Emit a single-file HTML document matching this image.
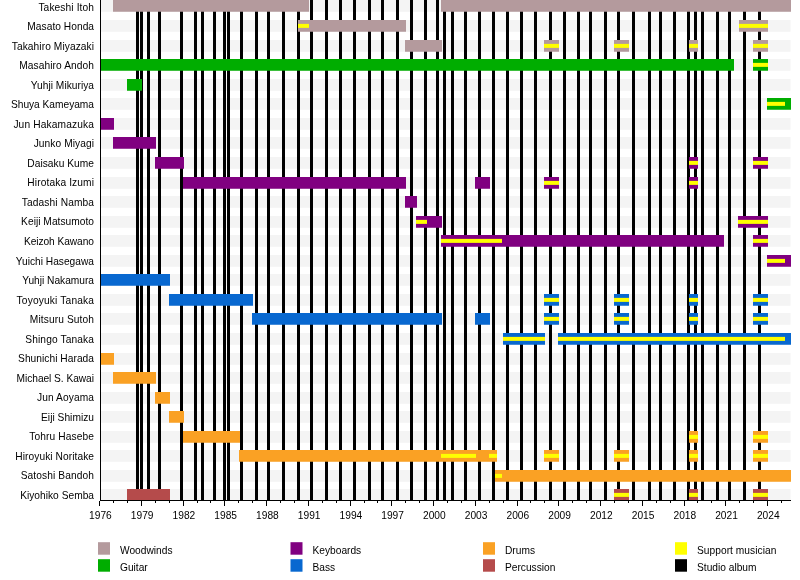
<!DOCTYPE html><html><head><meta charset="utf-8"><style>html,body{margin:0;padding:0;background:#fff;width:800px;height:580px;overflow:hidden}svg{display:block;will-change:transform}text{font-family:"Liberation Sans",sans-serif;fill:#000}</style></head><body>
<svg width="800" height="580" viewBox="0 0 800 580">
<rect x="0" y="0" width="800" height="580" fill="#fff"/>
<rect x="101" y="0.00" width="689.5" height="11.75" fill="#f4f4f4"/>
<rect x="101" y="20.00" width="689.5" height="11.75" fill="#f4f4f4"/>
<rect x="101" y="40.00" width="689.5" height="11.75" fill="#f4f4f4"/>
<rect x="101" y="59.00" width="689.5" height="11.75" fill="#f4f4f4"/>
<rect x="101" y="79.00" width="689.5" height="11.75" fill="#f4f4f4"/>
<rect x="101" y="98.00" width="689.5" height="11.75" fill="#f4f4f4"/>
<rect x="101" y="118.00" width="689.5" height="11.75" fill="#f4f4f4"/>
<rect x="101" y="137.00" width="689.5" height="11.75" fill="#f4f4f4"/>
<rect x="101" y="157.00" width="689.5" height="11.75" fill="#f4f4f4"/>
<rect x="101" y="177.00" width="689.5" height="11.75" fill="#f4f4f4"/>
<rect x="101" y="196.00" width="689.5" height="11.75" fill="#f4f4f4"/>
<rect x="101" y="216.00" width="689.5" height="11.75" fill="#f4f4f4"/>
<rect x="101" y="235.00" width="689.5" height="11.75" fill="#f4f4f4"/>
<rect x="101" y="255.00" width="689.5" height="11.75" fill="#f4f4f4"/>
<rect x="101" y="274.00" width="689.5" height="11.75" fill="#f4f4f4"/>
<rect x="101" y="294.00" width="689.5" height="11.75" fill="#f4f4f4"/>
<rect x="101" y="313.00" width="689.5" height="11.75" fill="#f4f4f4"/>
<rect x="101" y="333.00" width="689.5" height="11.75" fill="#f4f4f4"/>
<rect x="101" y="353.00" width="689.5" height="11.75" fill="#f4f4f4"/>
<rect x="101" y="372.00" width="689.5" height="11.75" fill="#f4f4f4"/>
<rect x="101" y="392.00" width="689.5" height="11.75" fill="#f4f4f4"/>
<rect x="101" y="411.00" width="689.5" height="11.75" fill="#f4f4f4"/>
<rect x="101" y="431.00" width="689.5" height="11.75" fill="#f4f4f4"/>
<rect x="101" y="450.00" width="689.5" height="11.75" fill="#f4f4f4"/>
<rect x="101" y="470.00" width="689.5" height="11.75" fill="#f4f4f4"/>
<rect x="101" y="489.00" width="689.5" height="11.75" fill="#f4f4f4"/>
<rect x="136" y="0" width="3" height="500" fill="#000"/>
<rect x="140" y="0" width="3" height="500" fill="#000"/>
<rect x="147" y="0" width="3" height="500" fill="#000"/>
<rect x="158" y="0" width="3" height="500" fill="#000"/>
<rect x="180" y="0" width="3" height="500" fill="#000"/>
<rect x="194" y="0" width="3" height="500" fill="#000"/>
<rect x="201" y="0" width="3" height="500" fill="#000"/>
<rect x="213" y="0" width="3" height="500" fill="#000"/>
<rect x="223" y="0" width="3" height="500" fill="#000"/>
<rect x="227" y="0" width="3" height="500" fill="#000"/>
<rect x="240" y="0" width="3" height="500" fill="#000"/>
<rect x="255" y="0" width="3" height="500" fill="#000"/>
<rect x="267" y="0" width="3" height="500" fill="#000"/>
<rect x="282" y="0" width="3" height="500" fill="#000"/>
<rect x="297" y="0" width="3" height="500" fill="#000"/>
<rect x="310" y="0" width="3" height="500" fill="#000"/>
<rect x="325" y="0" width="3" height="500" fill="#000"/>
<rect x="339" y="0" width="3" height="500" fill="#000"/>
<rect x="353" y="0" width="3" height="500" fill="#000"/>
<rect x="368" y="0" width="3" height="500" fill="#000"/>
<rect x="381" y="0" width="3" height="500" fill="#000"/>
<rect x="396" y="0" width="3" height="500" fill="#000"/>
<rect x="410" y="0" width="3" height="500" fill="#000"/>
<rect x="424" y="0" width="3" height="500" fill="#000"/>
<rect x="436" y="0" width="3" height="500" fill="#000"/>
<rect x="443" y="0" width="3" height="500" fill="#000"/>
<rect x="451" y="0" width="3" height="500" fill="#000"/>
<rect x="464" y="0" width="3" height="500" fill="#000"/>
<rect x="478" y="0" width="3" height="500" fill="#000"/>
<rect x="492" y="0" width="3" height="500" fill="#000"/>
<rect x="506" y="0" width="3" height="500" fill="#000"/>
<rect x="520" y="0" width="3" height="500" fill="#000"/>
<rect x="534" y="0" width="3" height="500" fill="#000"/>
<rect x="549" y="0" width="3" height="500" fill="#000"/>
<rect x="563" y="0" width="3" height="500" fill="#000"/>
<rect x="577" y="0" width="3" height="500" fill="#000"/>
<rect x="589" y="0" width="3" height="500" fill="#000"/>
<rect x="604" y="0" width="3" height="500" fill="#000"/>
<rect x="617" y="0" width="3" height="500" fill="#000"/>
<rect x="632" y="0" width="3" height="500" fill="#000"/>
<rect x="648" y="0" width="3" height="500" fill="#000"/>
<rect x="659" y="0" width="3" height="500" fill="#000"/>
<rect x="673" y="0" width="3" height="500" fill="#000"/>
<rect x="687" y="0" width="3" height="500" fill="#000"/>
<rect x="694" y="0" width="3" height="500" fill="#000"/>
<rect x="701" y="0" width="3" height="500" fill="#000"/>
<rect x="716" y="0" width="3" height="500" fill="#000"/>
<rect x="728" y="0" width="3" height="500" fill="#000"/>
<rect x="743" y="0" width="3" height="500" fill="#000"/>
<rect x="758" y="0" width="3" height="500" fill="#000"/>
<rect x="113" y="0.00" width="196" height="11.75" fill="#b49a9d"/>
<rect x="441" y="0.00" width="350" height="11.75" fill="#b49a9d"/>
<rect x="298" y="20.00" width="108" height="11.75" fill="#b49a9d"/>
<rect x="739" y="20.00" width="29" height="11.75" fill="#b49a9d"/>
<rect x="739" y="23.88" width="29" height="4" fill="#ffff00"/>
<rect x="298" y="23.88" width="11" height="4" fill="#ffff00"/>
<rect x="405" y="40.00" width="37" height="11.75" fill="#b49a9d"/>
<rect x="544" y="40.00" width="15" height="11.75" fill="#b49a9d"/>
<rect x="544" y="43.88" width="15" height="4" fill="#ffff00"/>
<rect x="614" y="40.00" width="15" height="11.75" fill="#b49a9d"/>
<rect x="614" y="43.88" width="15" height="4" fill="#ffff00"/>
<rect x="689" y="40.00" width="9" height="11.75" fill="#b49a9d"/>
<rect x="689" y="43.88" width="9" height="4" fill="#ffff00"/>
<rect x="753" y="40.00" width="15" height="11.75" fill="#b49a9d"/>
<rect x="753" y="43.88" width="15" height="4" fill="#ffff00"/>
<rect x="100" y="59.00" width="634" height="11.75" fill="#00ad00"/>
<rect x="753" y="59.00" width="15" height="11.75" fill="#00ad00"/>
<rect x="753" y="62.88" width="15" height="4" fill="#ffff00"/>
<rect x="127" y="79.00" width="15" height="11.75" fill="#00ad00"/>
<rect x="767" y="98.00" width="24" height="11.75" fill="#00ad00"/>
<rect x="767" y="101.88" width="18" height="4" fill="#ffff00"/>
<rect x="100" y="118.00" width="14" height="11.75" fill="#800080"/>
<rect x="113" y="137.00" width="43" height="11.75" fill="#800080"/>
<rect x="155" y="157.00" width="29" height="11.75" fill="#800080"/>
<rect x="689" y="157.00" width="9" height="11.75" fill="#800080"/>
<rect x="689" y="160.88" width="9" height="4" fill="#ffff00"/>
<rect x="753" y="157.00" width="15" height="11.75" fill="#800080"/>
<rect x="753" y="160.88" width="15" height="4" fill="#ffff00"/>
<rect x="183" y="177.00" width="223" height="11.75" fill="#800080"/>
<rect x="475" y="177.00" width="15" height="11.75" fill="#800080"/>
<rect x="544" y="177.00" width="15" height="11.75" fill="#800080"/>
<rect x="544" y="180.88" width="15" height="4" fill="#ffff00"/>
<rect x="689" y="177.00" width="9" height="11.75" fill="#800080"/>
<rect x="689" y="180.88" width="9" height="4" fill="#ffff00"/>
<rect x="405" y="196.00" width="12" height="11.75" fill="#800080"/>
<rect x="416" y="216.00" width="26" height="11.75" fill="#800080"/>
<rect x="738" y="216.00" width="30" height="11.75" fill="#800080"/>
<rect x="738" y="219.88" width="30" height="4" fill="#ffff00"/>
<rect x="416" y="219.88" width="11" height="4" fill="#ffff00"/>
<rect x="441" y="235.00" width="283" height="11.75" fill="#800080"/>
<rect x="753" y="235.00" width="15" height="11.75" fill="#800080"/>
<rect x="753" y="238.88" width="15" height="4" fill="#ffff00"/>
<rect x="441" y="238.88" width="61" height="4" fill="#ffff00"/>
<rect x="767" y="255.00" width="24" height="11.75" fill="#800080"/>
<rect x="767" y="258.88" width="18" height="4" fill="#ffff00"/>
<rect x="100" y="274.00" width="70" height="11.75" fill="#0868d0"/>
<rect x="169" y="294.00" width="84" height="11.75" fill="#0868d0"/>
<rect x="544" y="294.00" width="15" height="11.75" fill="#0868d0"/>
<rect x="544" y="297.88" width="15" height="4" fill="#ffff00"/>
<rect x="614" y="294.00" width="15" height="11.75" fill="#0868d0"/>
<rect x="614" y="297.88" width="15" height="4" fill="#ffff00"/>
<rect x="689" y="294.00" width="9" height="11.75" fill="#0868d0"/>
<rect x="689" y="297.88" width="9" height="4" fill="#ffff00"/>
<rect x="753" y="294.00" width="15" height="11.75" fill="#0868d0"/>
<rect x="753" y="297.88" width="15" height="4" fill="#ffff00"/>
<rect x="252" y="313.00" width="190" height="11.75" fill="#0868d0"/>
<rect x="475" y="313.00" width="15" height="11.75" fill="#0868d0"/>
<rect x="544" y="313.00" width="15" height="11.75" fill="#0868d0"/>
<rect x="544" y="316.88" width="15" height="4" fill="#ffff00"/>
<rect x="614" y="313.00" width="15" height="11.75" fill="#0868d0"/>
<rect x="614" y="316.88" width="15" height="4" fill="#ffff00"/>
<rect x="689" y="313.00" width="9" height="11.75" fill="#0868d0"/>
<rect x="689" y="316.88" width="9" height="4" fill="#ffff00"/>
<rect x="753" y="313.00" width="15" height="11.75" fill="#0868d0"/>
<rect x="753" y="316.88" width="15" height="4" fill="#ffff00"/>
<rect x="558" y="333.00" width="233" height="11.75" fill="#0868d0"/>
<rect x="503" y="333.00" width="42" height="11.75" fill="#0868d0"/>
<rect x="503" y="336.88" width="42" height="4" fill="#ffff00"/>
<rect x="558" y="336.88" width="227" height="4" fill="#ffff00"/>
<rect x="100" y="353.00" width="14" height="11.75" fill="#faa124"/>
<rect x="113" y="372.00" width="43" height="11.75" fill="#faa124"/>
<rect x="155" y="392.00" width="15" height="11.75" fill="#faa124"/>
<rect x="169" y="411.00" width="15" height="11.75" fill="#faa124"/>
<rect x="183" y="431.00" width="57" height="11.75" fill="#faa124"/>
<rect x="689" y="431.00" width="9" height="11.75" fill="#faa124"/>
<rect x="689" y="434.88" width="9" height="4" fill="#ffff00"/>
<rect x="753" y="431.00" width="15" height="11.75" fill="#faa124"/>
<rect x="753" y="434.88" width="15" height="4" fill="#ffff00"/>
<rect x="239" y="450.00" width="258" height="11.75" fill="#faa124"/>
<rect x="544" y="450.00" width="15" height="11.75" fill="#faa124"/>
<rect x="544" y="453.88" width="15" height="4" fill="#ffff00"/>
<rect x="614" y="450.00" width="15" height="11.75" fill="#faa124"/>
<rect x="614" y="453.88" width="15" height="4" fill="#ffff00"/>
<rect x="689" y="450.00" width="9" height="11.75" fill="#faa124"/>
<rect x="689" y="453.88" width="9" height="4" fill="#ffff00"/>
<rect x="753" y="450.00" width="15" height="11.75" fill="#faa124"/>
<rect x="753" y="453.88" width="15" height="4" fill="#ffff00"/>
<rect x="441" y="453.88" width="35" height="4" fill="#ffff00"/>
<rect x="489" y="453.88" width="8" height="4" fill="#ffff00"/>
<rect x="495" y="470.00" width="296" height="11.75" fill="#faa124"/>
<rect x="495" y="473.88" width="7" height="4" fill="#ffff00"/>
<rect x="127" y="489.00" width="43" height="11.75" fill="#b54b4b"/>
<rect x="614" y="489.00" width="15" height="11.75" fill="#b54b4b"/>
<rect x="614" y="492.88" width="15" height="4" fill="#ffff00"/>
<rect x="689" y="489.00" width="9" height="11.75" fill="#b54b4b"/>
<rect x="689" y="492.88" width="9" height="4" fill="#ffff00"/>
<rect x="753" y="489.00" width="15" height="11.75" fill="#b54b4b"/>
<rect x="753" y="492.88" width="15" height="4" fill="#ffff00"/>
<rect x="100" y="0" width="1" height="501" fill="#000"/>
<rect x="100" y="500" width="691" height="1" fill="#000"/>
<rect x="99" y="501" width="1" height="5" fill="#000"/>
<text x="100.46" y="518.6" font-size="10.2" text-anchor="middle">1976</text>
<rect x="113" y="501" width="1" height="2" fill="#000"/>
<rect x="127" y="501" width="1" height="2" fill="#000"/>
<rect x="141" y="501" width="1" height="5" fill="#000"/>
<text x="142.20" y="518.6" font-size="10.2" text-anchor="middle">1979</text>
<rect x="155" y="501" width="1" height="2" fill="#000"/>
<rect x="169" y="501" width="1" height="2" fill="#000"/>
<rect x="183" y="501" width="1" height="5" fill="#000"/>
<text x="183.94" y="518.6" font-size="10.2" text-anchor="middle">1982</text>
<rect x="197" y="501" width="1" height="2" fill="#000"/>
<rect x="210" y="501" width="1" height="2" fill="#000"/>
<rect x="224" y="501" width="1" height="5" fill="#000"/>
<text x="225.68" y="518.6" font-size="10.2" text-anchor="middle">1985</text>
<rect x="238" y="501" width="1" height="2" fill="#000"/>
<rect x="252" y="501" width="1" height="2" fill="#000"/>
<rect x="266" y="501" width="1" height="5" fill="#000"/>
<text x="267.42" y="518.6" font-size="10.2" text-anchor="middle">1988</text>
<rect x="280" y="501" width="1" height="2" fill="#000"/>
<rect x="294" y="501" width="1" height="2" fill="#000"/>
<rect x="308" y="501" width="1" height="5" fill="#000"/>
<text x="309.16" y="518.6" font-size="10.2" text-anchor="middle">1991</text>
<rect x="322" y="501" width="1" height="2" fill="#000"/>
<rect x="336" y="501" width="1" height="2" fill="#000"/>
<rect x="350" y="501" width="1" height="5" fill="#000"/>
<text x="350.89" y="518.6" font-size="10.2" text-anchor="middle">1994</text>
<rect x="364" y="501" width="1" height="2" fill="#000"/>
<rect x="377" y="501" width="1" height="2" fill="#000"/>
<rect x="391" y="501" width="1" height="5" fill="#000"/>
<text x="392.63" y="518.6" font-size="10.2" text-anchor="middle">1997</text>
<rect x="405" y="501" width="1" height="2" fill="#000"/>
<rect x="419" y="501" width="1" height="2" fill="#000"/>
<rect x="433" y="501" width="1" height="5" fill="#000"/>
<text x="434.37" y="518.6" font-size="10.2" text-anchor="middle">2000</text>
<rect x="447" y="501" width="1" height="2" fill="#000"/>
<rect x="461" y="501" width="1" height="2" fill="#000"/>
<rect x="475" y="501" width="1" height="5" fill="#000"/>
<text x="476.11" y="518.6" font-size="10.2" text-anchor="middle">2003</text>
<rect x="489" y="501" width="1" height="2" fill="#000"/>
<rect x="503" y="501" width="1" height="2" fill="#000"/>
<rect x="517" y="501" width="1" height="5" fill="#000"/>
<text x="517.85" y="518.6" font-size="10.2" text-anchor="middle">2006</text>
<rect x="530" y="501" width="1" height="2" fill="#000"/>
<rect x="544" y="501" width="1" height="2" fill="#000"/>
<rect x="558" y="501" width="1" height="5" fill="#000"/>
<text x="559.59" y="518.6" font-size="10.2" text-anchor="middle">2009</text>
<rect x="572" y="501" width="1" height="2" fill="#000"/>
<rect x="586" y="501" width="1" height="2" fill="#000"/>
<rect x="600" y="501" width="1" height="5" fill="#000"/>
<text x="601.33" y="518.6" font-size="10.2" text-anchor="middle">2012</text>
<rect x="614" y="501" width="1" height="2" fill="#000"/>
<rect x="628" y="501" width="1" height="2" fill="#000"/>
<rect x="642" y="501" width="1" height="5" fill="#000"/>
<text x="643.07" y="518.6" font-size="10.2" text-anchor="middle">2015</text>
<rect x="656" y="501" width="1" height="2" fill="#000"/>
<rect x="670" y="501" width="1" height="2" fill="#000"/>
<rect x="684" y="501" width="1" height="5" fill="#000"/>
<text x="684.81" y="518.6" font-size="10.2" text-anchor="middle">2018</text>
<rect x="697" y="501" width="1" height="2" fill="#000"/>
<rect x="711" y="501" width="1" height="2" fill="#000"/>
<rect x="725" y="501" width="1" height="5" fill="#000"/>
<text x="726.54" y="518.6" font-size="10.2" text-anchor="middle">2021</text>
<rect x="739" y="501" width="1" height="2" fill="#000"/>
<rect x="753" y="501" width="1" height="2" fill="#000"/>
<rect x="767" y="501" width="1" height="5" fill="#000"/>
<text x="768.28" y="518.6" font-size="10.2" text-anchor="middle">2024</text>
<rect x="781" y="501" width="1" height="2" fill="#000"/>
<text x="94" y="10.60" font-size="10.2" text-anchor="end" textLength="55.58" lengthAdjust="spacing">Takeshi Itoh</text>
<text x="94" y="30.13" font-size="10.2" text-anchor="end" textLength="66.67" lengthAdjust="spacing">Masato Honda</text>
<text x="94" y="49.67" font-size="10.2" text-anchor="end" textLength="82.27" lengthAdjust="spacing">Takahiro Miyazaki</text>
<text x="94" y="69.20" font-size="10.2" text-anchor="end" textLength="74.83" lengthAdjust="spacing">Masahiro Andoh</text>
<text x="94" y="88.74" font-size="10.2" text-anchor="end" textLength="63.26" lengthAdjust="spacing">Yuhji Mikuriya</text>
<text x="94" y="108.27" font-size="10.2" text-anchor="end" textLength="83.05" lengthAdjust="spacing">Shuya Kameyama</text>
<text x="94" y="127.81" font-size="10.2" text-anchor="end" textLength="80.62" lengthAdjust="spacing">Jun Hakamazuka</text>
<text x="94" y="147.34" font-size="10.2" text-anchor="end" textLength="60.37" lengthAdjust="spacing">Junko Miyagi</text>
<text x="94" y="166.88" font-size="10.2" text-anchor="end" textLength="66.65" lengthAdjust="spacing">Daisaku Kume</text>
<text x="94" y="186.41" font-size="10.2" text-anchor="end" textLength="66.71" lengthAdjust="spacing">Hirotaka Izumi</text>
<text x="94" y="205.95" font-size="10.2" text-anchor="end" textLength="72.20" lengthAdjust="spacing">Tadashi Namba</text>
<text x="94" y="225.48" font-size="10.2" text-anchor="end" textLength="72.88" lengthAdjust="spacing">Keiji Matsumoto</text>
<text x="94" y="245.02" font-size="10.2" text-anchor="end" textLength="70.10" lengthAdjust="spacing">Keizoh Kawano</text>
<text x="94" y="264.56" font-size="10.2" text-anchor="end" textLength="78.26" lengthAdjust="spacing">Yuichi Hasegawa</text>
<text x="94" y="284.09" font-size="10.2" text-anchor="end" textLength="71.82" lengthAdjust="spacing">Yuhji Nakamura</text>
<text x="94" y="303.62" font-size="10.2" text-anchor="end" textLength="77.44" lengthAdjust="spacing">Toyoyuki Tanaka</text>
<text x="94" y="323.16" font-size="10.2" text-anchor="end" textLength="64.16" lengthAdjust="spacing">Mitsuru Sutoh</text>
<text x="94" y="342.70" font-size="10.2" text-anchor="end" textLength="68.72" lengthAdjust="spacing">Shingo Tanaka</text>
<text x="94" y="362.23" font-size="10.2" text-anchor="end" textLength="75.93" lengthAdjust="spacing">Shunichi Harada</text>
<text x="94" y="381.77" font-size="10.2" text-anchor="end" textLength="77.44" lengthAdjust="spacing">Michael S. Kawai</text>
<text x="94" y="401.30" font-size="10.2" text-anchor="end" textLength="56.98" lengthAdjust="spacing">Jun Aoyama</text>
<text x="94" y="420.84" font-size="10.2" text-anchor="end" textLength="52.96" lengthAdjust="spacing">Eiji Shimizu</text>
<text x="94" y="440.37" font-size="10.2" text-anchor="end" textLength="64.74" lengthAdjust="spacing">Tohru Hasebe</text>
<text x="94" y="459.91" font-size="10.2" text-anchor="end" textLength="78.66" lengthAdjust="spacing">Hiroyuki Noritake</text>
<text x="94" y="479.44" font-size="10.2" text-anchor="end" textLength="73.34" lengthAdjust="spacing">Satoshi Bandoh</text>
<text x="94" y="498.98" font-size="10.2" text-anchor="end" textLength="73.83" lengthAdjust="spacing">Kiyohiko Semba</text>
<rect x="98" y="542.2" width="12" height="12.5" fill="#b49a9d"/>
<text x="120" y="554.00" font-size="10.2">Woodwinds</text>
<rect x="98" y="559.2" width="12" height="12.5" fill="#00ad00"/>
<text x="120" y="571.00" font-size="10.2">Guitar</text>
<rect x="290.5" y="542.2" width="12" height="12.5" fill="#800080"/>
<text x="312.5" y="554.00" font-size="10.2">Keyboards</text>
<rect x="290.5" y="559.2" width="12" height="12.5" fill="#0868d0"/>
<text x="312.5" y="571.00" font-size="10.2">Bass</text>
<rect x="483" y="542.2" width="12" height="12.5" fill="#faa124"/>
<text x="505" y="554.00" font-size="10.2">Drums</text>
<rect x="483" y="559.2" width="12" height="12.5" fill="#b54b4b"/>
<text x="505" y="571.00" font-size="10.2">Percussion</text>
<rect x="675" y="542.2" width="12" height="12.5" fill="#ffff00"/>
<text x="697" y="554.00" font-size="10.2" textLength="79.3" lengthAdjust="spacing">Support musician</text>
<rect x="675" y="559.2" width="12" height="12.5" fill="#000"/>
<text x="697" y="571.00" font-size="10.2">Studio album</text>
</svg></body></html>
